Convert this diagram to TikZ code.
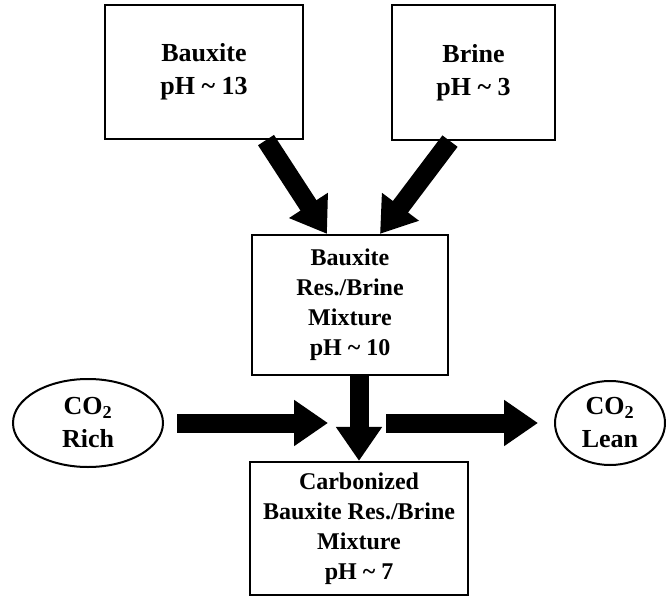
\documentclass[tikz,border=0pt]{standalone}
\usepackage{fontspec}
\setmainfont{Liberation Serif}
\usetikzlibrary{arrows.meta,shapes.geometric}
\begin{document}
\begin{tikzpicture}[x=1pt,y=-1pt,
  txt/.style={align=center,inner sep=0pt,font=\fontsize{24}{30}\selectfont\bfseries},
  bigtxt/.style={font=\fontsize{26}{33}\selectfont\bfseries},
  box/.style={txt,draw,line width=2.2pt},
  oval/.style={txt,bigtxt,draw,ellipse,line width=2pt},
  fat/.style={line width=19pt,-{Triangle[width=44pt,length=34pt]}}]
\useasboundingbox (0,0) rectangle (666,596);
\node[box,bigtxt,minimum width=198pt,minimum height=134pt] (bauxite) at (204,72) {Bauxite\\pH \textasciitilde{} 13};
\node[box,bigtxt,minimum width=163pt,minimum height=135pt] (brine) at (473.5,72.5) {Brine\\pH \textasciitilde{} 3};
\node[box,minimum width=196pt,minimum height=140pt] (mix) at (350,305) {Bauxite\\Res./Brine\\Mixture\\pH \textasciitilde{} 10};
\node[box,minimum width=218pt,minimum height=133pt] (carb) at (359,528.5) {Carbonized\\Bauxite Res./Brine\\Mixture\\pH \textasciitilde{} 7};
\node[oval,minimum width=150pt,minimum height=88pt] (rich) at (88,423) {CO\textsubscript{2}\\Rich};
\node[oval,minimum width=110pt,minimum height=84pt] (lean) at (610,423) {CO\textsubscript{2}\\Lean};
\coordinate (jin) at (328,423);
\coordinate (jout) at (386,423);
\draw[fat] ([xshift=62pt]bauxite.south) -- ([xshift=-23pt]mix.north);
\draw[fat] ([xshift=-23.5pt]brine.south) -- ([xshift=30pt]mix.north);
\draw[fat] (mix.south -| carb.north) -- (carb.north);
\draw[fat,shorten <=13pt] (rich.east) -- (jin);
\draw[fat,shorten >=16pt] (jout) -- (lean.west);
\end{tikzpicture}
\end{document}
